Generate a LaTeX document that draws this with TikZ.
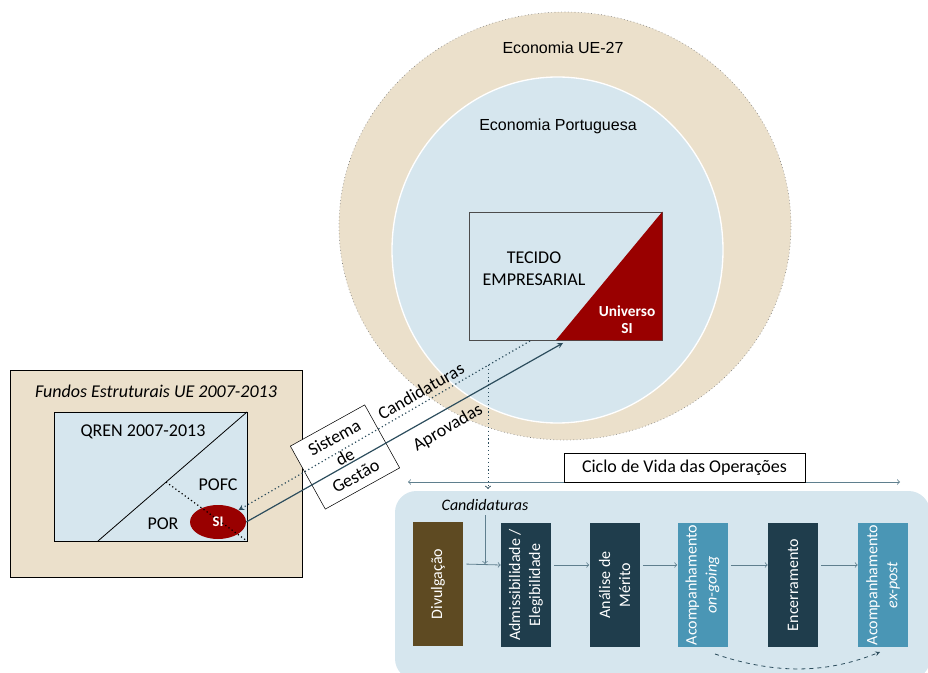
\documentclass[tikz,border=0pt]{standalone}
\usepackage{fontspec}
\setmainfont{Carlito}
\newfontfamily\arialfont{Liberation Sans}
\usetikzlibrary{shapes.geometric}
\definecolor{ueTan}{HTML}{EBE0CB}
\definecolor{ptBlue}{HTML}{D6E6EE}
\definecolor{siRed}{HTML}{990000}
\definecolor{stageBrown}{HTML}{5E4A22}
\definecolor{stageDark}{HTML}{1F3D4C}
\definecolor{stageMid}{HTML}{4A96B5}
\definecolor{flowTeal}{HTML}{2C4D5D}
\definecolor{flowGrey}{HTML}{5F7F8E}

\begin{document}
\begin{tikzpicture}[x=0.75pt, y=-0.75pt,
	stagebox/.style={rotate=90, minimum width=93pt, minimum height=37.5pt, inner sep=1pt, align=center, text=white, font=\fontsize{12}{15}\selectfont},
	flowarrow/.style={->, flowGrey, line width=0.6pt},
	link/.style={flowTeal, line width=0.9pt},
	txt/.style={font=\fontsize{13.5}{16.5}\selectfont, align=center},
	econ/.style={font=\arialfont\fontsize{12}{14}\selectfont}]
	\useasboundingbox (0,0) rectangle (928,673);
	% economias
	\filldraw[fill=ueTan, draw=gray, dotted, line width=0.5pt] (565,226) ellipse [x radius=226, y radius=214];
	\filldraw[fill=ptBlue, draw=white, line width=1pt] (557.5,250) ellipse [x radius=165.5, y radius=173];
	\node[econ] (ue) at (563,48) {Economia UE-27};
	\node[econ] (pt) at (558,126) {Economia Portuguesa};
	% tecido empresarial
	\node[draw=black!70, line width=0.7pt, fill=ptBlue, minimum width=144.75pt, minimum height=96pt, inner sep=0pt] (tec) at (565.5,276) {};
	\fill[siRed] (556,340) -- (tec.north east) -- (tec.south east) -- cycle;
	\node[txt] (tecido) at (534,269) {TECIDO\\EMPRESARIAL};
	\node[font=\bfseries\fontsize{11.5}{12.5}\selectfont, text=white, align=center] (universo) at (627,320) {Universo\\SI};
	% fundos estruturais
	\draw[fill=ueTan, line width=0.6pt] (10,370) rectangle (302,577);
	\node[txt, font=\itshape\fontsize{13.5}{16.5}\selectfont] (fundos) at (156,391) {Fundos Estruturais UE 2007-2013};
	\draw[fill=ptBlue, line width=0.6pt] (54,412) rectangle (247,541);
	\draw[line width=0.6pt] (98,541) -- (247,412);
	\node[txt] (qren) at (143,432) {QREN 2007-2013};
	\node[txt] (pofc) at (218,485) {POFC};
	\node[txt] (por) at (163,524) {POR};
	\node[ellipse, fill=siRed, minimum width=42pt, minimum height=25.5pt, inner sep=0pt, text=white, font=\bfseries\fontsize{11}{12}\selectfont] (si) at (218,522) {SI};
	\draw[dotted, line width=0.9pt] (166,482) -- (247,541);
	% sistema de gestao
	\node[draw, fill=white, rotate=29, minimum width=63.75pt, minimum height=54pt, inner sep=0pt, txt] (sg) at (345,457) {Sistema\\de\\Gestão};
	\coordinate (cand-out) at (530,341);
	\coordinate (apr-in) at (563,343);
	\draw[link, dotted, -stealth] (cand-out) -- (si);
	\draw[link, -stealth] (si.east) -- (apr-in);
	\node[txt, rotate=30] (cand-lbl) at (421,391) {Candidaturas};
	\node[txt, rotate=30] (apr-lbl) at (448,428) {Aprovadas};
	% ciclo de vida
	\fill[ptBlue, rounded corners=16pt] (395,491) rectangle (930,680);
	\coordinate (branch) at (488,365);
	\coordinate (panel-top) at (488,489);
	\draw[link, dotted, line width=0.7pt, ->] (branch) -- (panel-top);
	\coordinate (life-start) at (408,482);
	\coordinate (life-end) at (900,482);
	\draw[flowarrow, <->] (life-start) -- (life-end);
	\node[draw, fill=white, txt, minimum width=180.75pt, minimum height=21.75pt, inner sep=0pt] (ciclo) at (684.5,467.5) {Ciclo de Vida das Operações};
	% etapas
	\node[stagebox, fill=stageBrown] (div) at (438,584) {Divulgação};
	\node[stagebox, fill=stageDark] (adm) at (526,585) {Admissibilidade /\\Elegibilidade};
	\node[stagebox, fill=stageDark] (ana) at (614.5,585) {Análise de\\Mérito};
	\node[stagebox, fill=stageMid] (ongo) at (702.5,585) {Acompanhamento\\\textit{on-going}};
	\node[stagebox, fill=stageDark] (enc) at (793,585) {Encerramento};
	\node[stagebox, fill=stageMid] (expo) at (883,585) {Acompanhamento\\\textit{ex-post}};
	\foreach \a/\b in {div/adm, adm/ana, ana/ongo, ongo/enc, enc/expo}
		\draw[flowarrow, shorten <=2.25pt] ([yshift=15pt]\a.south) -- ([yshift=15pt]\b.north);
	\node[font=\itshape\fontsize{12}{14}\selectfont] (cand-top) at (485,505) {Candidaturas};
	\coordinate (cand-join) at (485,564);
	\draw[flowarrow] (cand-top) -- (cand-join);
	\coordinate (ongo-foot) at (715,654);
	\coordinate (expo-foot) at (880,652);
	\draw[flowTeal, dashed, line width=0.6pt, -stealth] (ongo-foot) .. controls (780,676) and (830,672) .. (expo-foot);
\end{tikzpicture}
\end{document}
